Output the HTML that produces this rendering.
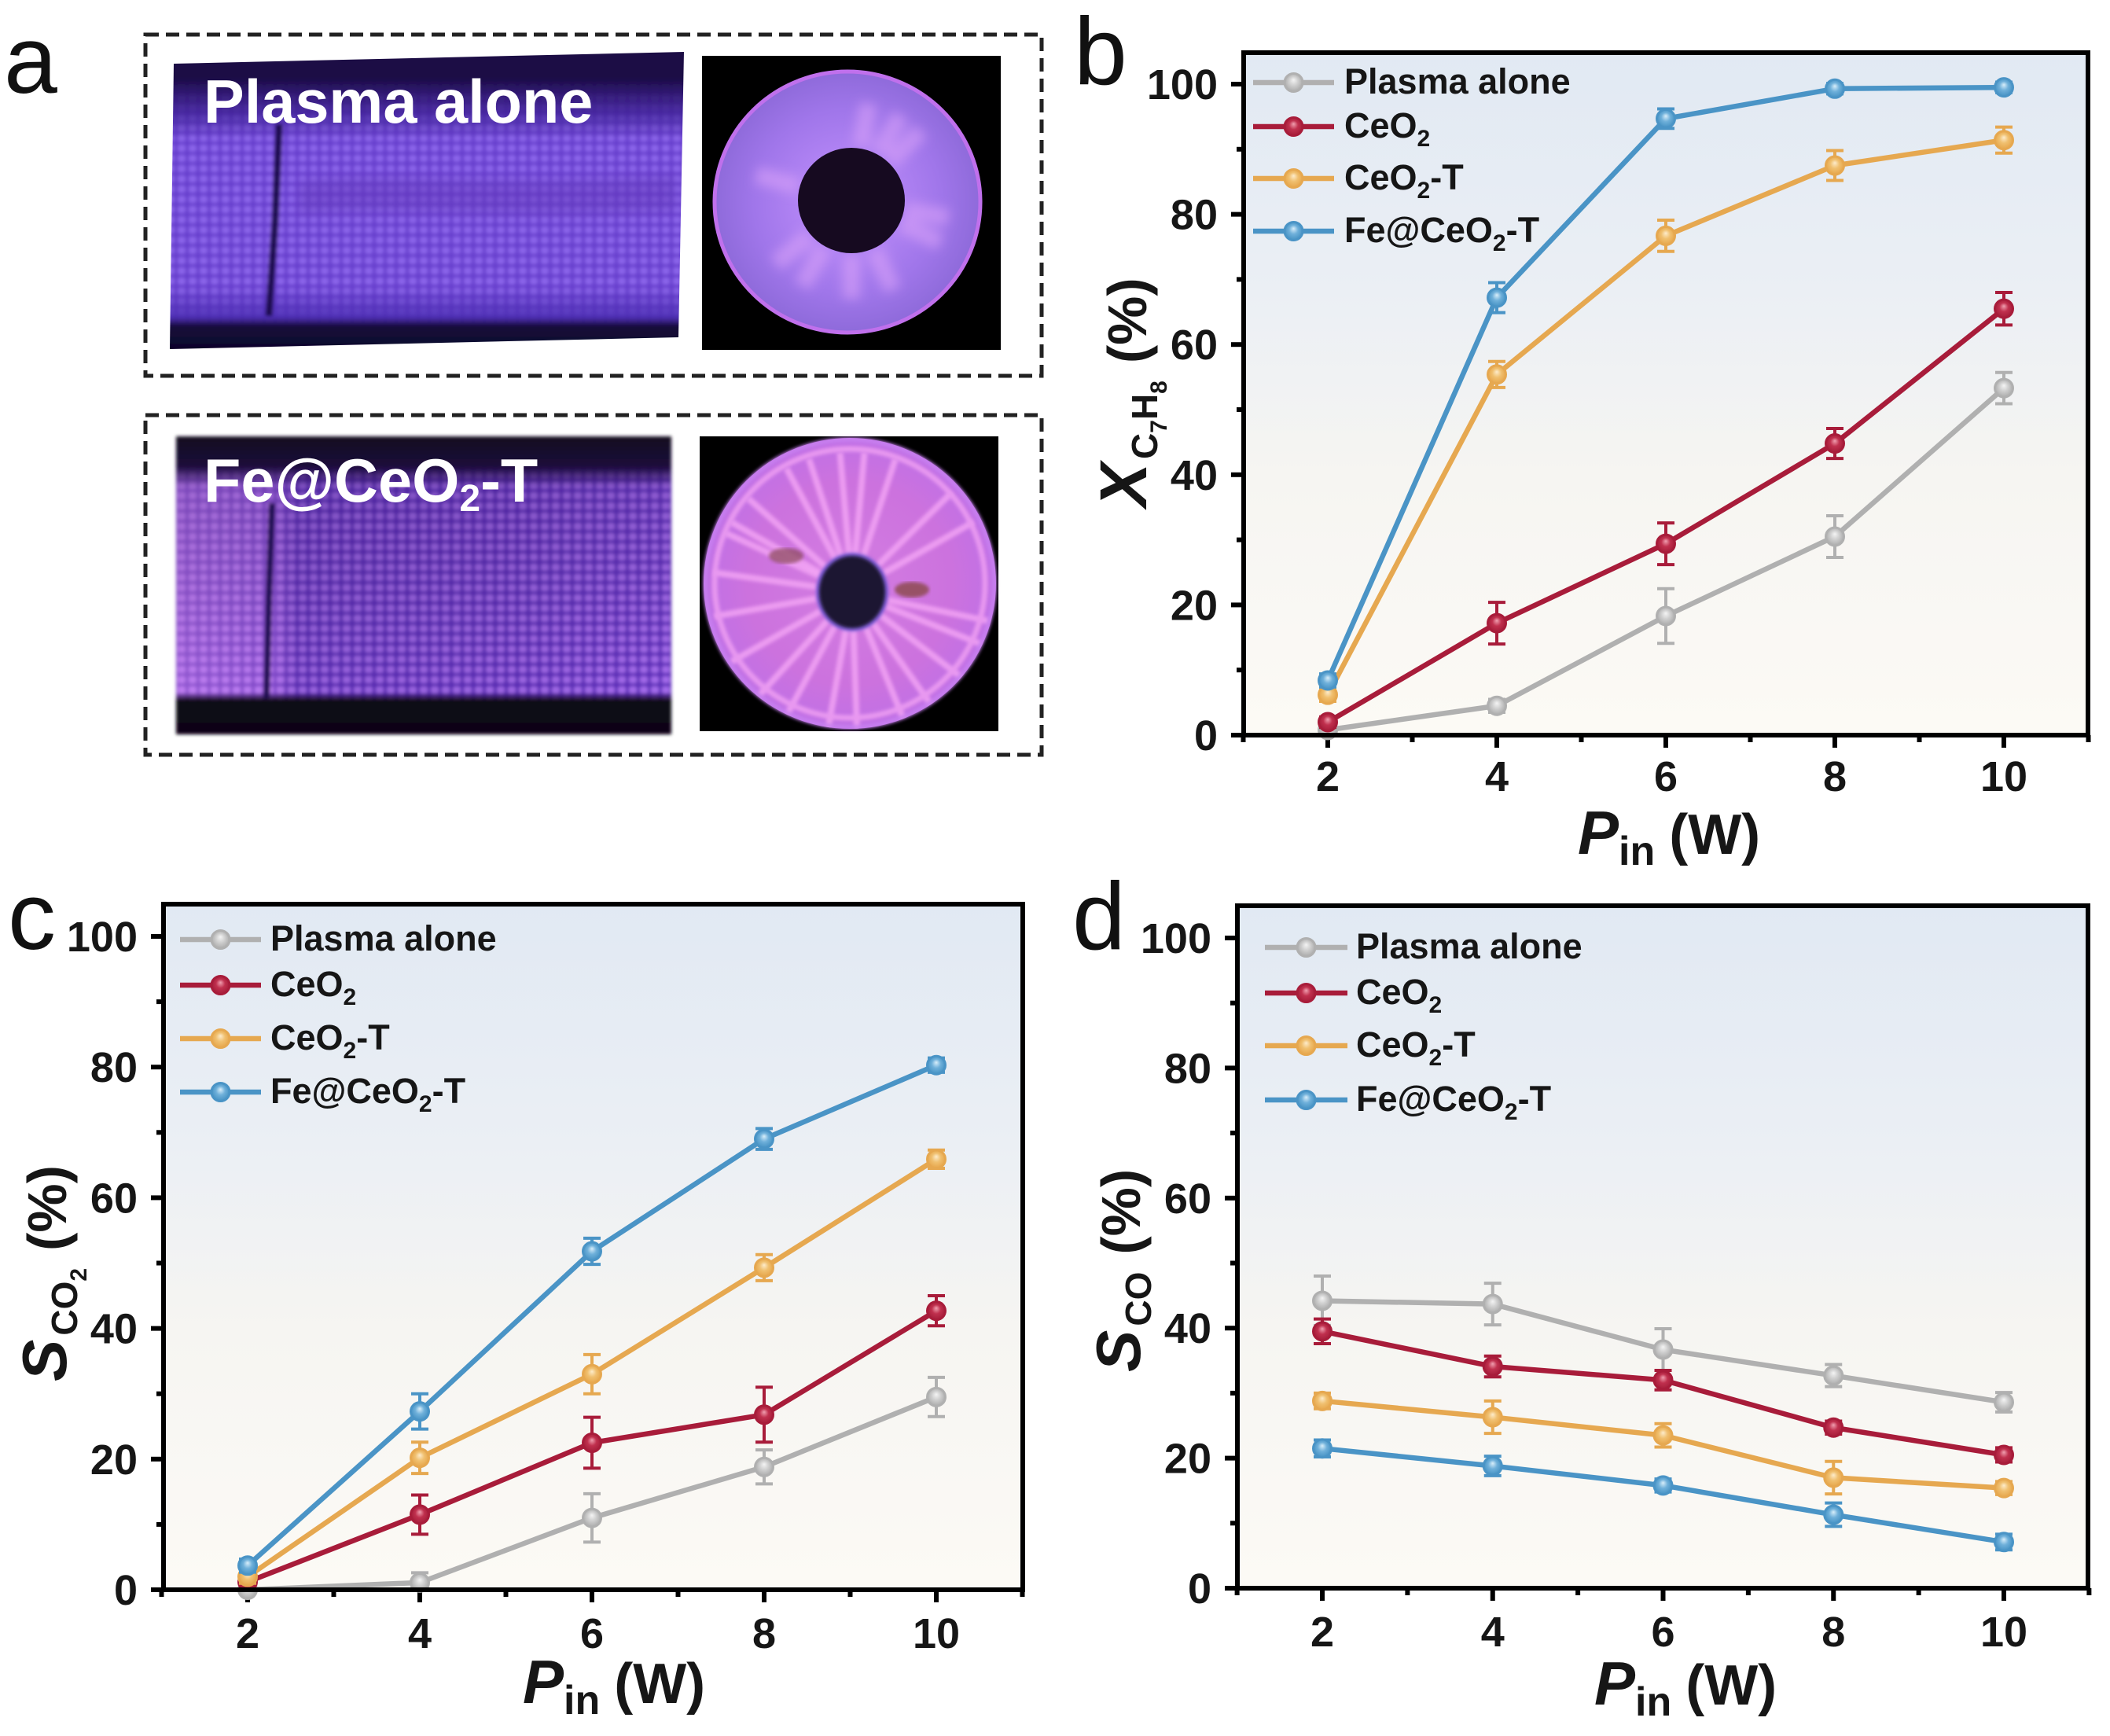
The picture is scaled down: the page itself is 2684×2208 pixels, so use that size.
<!DOCTYPE html>
<html lang="en">
<head>
<meta charset="utf-8">
<title>Plasma catalysis figure</title>
<style>
html,body{margin:0;padding:0;background:#fff;}
svg{display:block;font-family:"Liberation Sans",Arial,sans-serif;}
text{fill:#161616;font-weight:bold;}
.letter{font-weight:normal;font-size:122px;fill:#111;}
.over{fill:#fff;font-size:77.5px;font-weight:bold;}
</style>
</head>
<body>
<svg id="fig" xmlns="http://www.w3.org/2000/svg" width="2684" height="2208" viewBox="0 0 2684 2208">
<defs>
<linearGradient id="plotBg" x1="0" y1="0" x2="0" y2="1">
<stop offset="0" stop-color="#e1e9f3"/><stop offset="0.35" stop-color="#ebeff4"/><stop offset="0.62" stop-color="#f6f5f2"/><stop offset="1" stop-color="#fcfaf5"/>
</linearGradient>
<radialGradient id="mk0" cx="0.5" cy="0.5" r="0.55" fx="0.5" fy="0.35"><stop offset="0" stop-color="#f4f4f4"/><stop offset="0.45" stop-color="#cfcfcf"/><stop offset="1" stop-color="#a6a6a6"/></radialGradient>
<radialGradient id="mk1" cx="0.5" cy="0.5" r="0.55" fx="0.5" fy="0.35"><stop offset="0" stop-color="#f0a0b0"/><stop offset="0.45" stop-color="#c0304e"/><stop offset="1" stop-color="#a01a36"/></radialGradient>
<radialGradient id="mk2" cx="0.5" cy="0.5" r="0.55" fx="0.5" fy="0.35"><stop offset="0" stop-color="#fdeccb"/><stop offset="0.45" stop-color="#f0c070"/><stop offset="1" stop-color="#e5a245"/></radialGradient>
<radialGradient id="mk3" cx="0.5" cy="0.5" r="0.55" fx="0.5" fy="0.35"><stop offset="0" stop-color="#d8eefa"/><stop offset="0.45" stop-color="#6fb0da"/><stop offset="1" stop-color="#3f8dc0"/></radialGradient>
<pattern id="mesh1" width="14" height="13" patternUnits="userSpaceOnUse"><rect width="14" height="13" fill="#6238c8"/><rect x="2" y="2" width="10" height="9" rx="3" fill="#8f6aec"/></pattern>
<pattern id="mesh2" width="14" height="13" patternUnits="userSpaceOnUse"><rect width="14" height="13" fill="#5c2cb8"/><rect x="2" y="2" width="10" height="9" rx="3" fill="#a66cec"/></pattern>
<linearGradient id="fadeTop1" x1="0" y1="0" x2="0" y2="1"><stop offset="0" stop-color="#1a0a44"/><stop offset="0.1" stop-color="#1a0a44"/><stop offset="0.22" stop-color="#3a1e90" stop-opacity="0.7"/><stop offset="0.3" stop-color="#3a1e90" stop-opacity="0"/><stop offset="0.78" stop-color="#4a2cb0" stop-opacity="0"/><stop offset="0.88" stop-color="#4a2cb0" stop-opacity="0.85"/><stop offset="0.91" stop-color="#14083a"/><stop offset="1" stop-color="#0e0628"/></linearGradient>
<linearGradient id="fadeTop2" x1="0" y1="0" x2="0" y2="1"><stop offset="0" stop-color="#120820"/><stop offset="0.1" stop-color="#1c0c3a"/><stop offset="0.17" stop-color="#2c1460" stop-opacity="0.2"/><stop offset="0.86" stop-color="#1c0c3a" stop-opacity="0"/><stop offset="0.885" stop-color="#100818"/><stop offset="1" stop-color="#0c0612"/></linearGradient>
<linearGradient id="leftGlow" x1="0" y1="0" x2="1" y2="0"><stop offset="0" stop-color="#d890f4" stop-opacity="0.45"/><stop offset="0.2" stop-color="#d890f4" stop-opacity="0.3"/><stop offset="0.25" stop-color="#4a2a90" stop-opacity="0.18"/><stop offset="0.7" stop-color="#4a2a90" stop-opacity="0.12"/><stop offset="1" stop-color="#8a5ae0" stop-opacity="0.1"/></linearGradient>
<radialGradient id="disc1Fill" cx="0.5" cy="0.5" r="0.5"><stop offset="0.35" stop-color="#b284f4"/><stop offset="0.7" stop-color="#a076ea"/><stop offset="1" stop-color="#8e6ada"/></radialGradient>
<radialGradient id="disc2Fill" cx="0.5" cy="0.5" r="0.5"><stop offset="0.3" stop-color="#d078e0"/><stop offset="0.7" stop-color="#cc72de"/><stop offset="1" stop-color="#c070e6"/></radialGradient>
<filter id="soft" x="-5%" y="-5%" width="110%" height="110%"><feGaussianBlur stdDeviation="2"/></filter>
<filter id="softer" x="-20%" y="-20%" width="140%" height="140%"><feGaussianBlur stdDeviation="7"/></filter>
<clipPath id="photo1Clip"><polygon points="221,81 870,66 863,429 216,444"/></clipPath>
<clipPath id="disc1Clip"><ellipse cx="1078" cy="257" rx="170" ry="167"/></clipPath>
<clipPath id="disc2Clip"><ellipse cx="1081" cy="742" rx="186" ry="185"/></clipPath>
</defs>
<rect width="2684" height="2208" fill="#ffffff"/>

<g>
<text class="letter" x="5" y="118">a</text>
<rect x="185" y="44" width="1140" height="434" fill="none" stroke="#222" stroke-width="5" stroke-dasharray="17 9"/>
<rect x="185" y="528" width="1140" height="432" fill="none" stroke="#222" stroke-width="5" stroke-dasharray="17 9"/>

<g clip-path="url(#photo1Clip)">
<g filter="url(#soft)">
<rect x="210" y="60" width="670" height="390" fill="url(#mesh1)"/>
<rect x="210" y="60" width="670" height="390" fill="#7a52e0" opacity="0.25"/>
<path d="M380,232 C480,215 620,240 860,222 L860,268 C650,280 480,262 380,272Z" fill="#6238b8" opacity="0.45" filter="url(#softer)"/>
<rect x="210" y="60" width="670" height="390" fill="url(#fadeTop1)"/>
<path d="M355,158 L350,280 L342,402" stroke="#1a0a50" stroke-width="9" fill="none"/>
</g>
</g>
<text class="over" x="259" y="156">Plasma alone</text>

<g>
<rect x="893" y="71" width="380" height="374" fill="#000"/>
<ellipse cx="1078" cy="257" rx="170" ry="167" fill="url(#disc1Fill)"/>
<g id="disc1Rays" clip-path="url(#disc1Clip)" filter="url(#softer)"></g>
<ellipse cx="1078" cy="257" rx="169" ry="166" fill="none" stroke="#c070ec" stroke-width="5"/>
<ellipse cx="1083" cy="255" rx="68" ry="67" fill="#160a20"/>
</g>

<g>
<g filter="url(#soft)">
<rect x="224" y="555" width="630" height="379" fill="url(#mesh2)"/>
<rect x="224" y="555" width="630" height="379" fill="url(#leftGlow)"/>
<rect x="224" y="555" width="630" height="379" fill="url(#fadeTop2)"/>
<path d="M346,640 L342,760 L339,888" stroke="#1a0a50" stroke-width="8" fill="none"/>
</g>
</g>
<text class="over" x="259" y="638">Fe@CeO<tspan font-size="48" dy="12" style="fill:#fff">2</tspan><tspan dy="-12" style="fill:#fff">-T</tspan></text>

<g>
<rect x="890" y="555" width="380" height="375" fill="#000"/>
<ellipse cx="1081" cy="742" rx="186" ry="185" fill="url(#disc2Fill)"/>
<g id="disc2Rays" clip-path="url(#disc2Clip)" filter="url(#soft)"></g>
<ellipse cx="1000" cy="707" rx="22" ry="10" fill="#8a4a58" filter="url(#soft)" opacity="0.7"/>
<ellipse cx="1160" cy="750" rx="22" ry="10" fill="#8a4a48" filter="url(#soft)" opacity="0.8"/>
<ellipse cx="1081" cy="742" rx="172" ry="171" fill="none" stroke="#e898f0" stroke-width="7" filter="url(#soft)"/>
<ellipse cx="1081" cy="742" rx="184" ry="183" fill="none" stroke="#c880f0" stroke-width="5" filter="url(#soft)"/>
<ellipse cx="1084" cy="753" rx="46" ry="50" fill="#6a5ad8" opacity="0.8" filter="url(#soft)"/>
<ellipse cx="1084" cy="753" rx="42" ry="46" fill="#1c1230" filter="url(#soft)"/>
</g>
</g>

<g id="panelB">
<text class="letter" x="1366" y="107">b</text>
</g>
<g id="panelC">
<text class="letter" x="10" y="1207">c</text>
</g>
<g id="panelD">
<text class="letter" x="1364" y="1207">d</text>
</g>
</svg>

<script>
// ---- shared categories and tick labels ----
const powerCategories = [2, 4, 6, 8, 10];
const xTickValues = [1, 2, 3, 4, 5, 6, 7, 8, 9, 10, 11];
const xTickLabels = [2, 4, 6, 8, 10];
const yTickValues = [0, 10, 20, 30, 40, 50, 60, 70, 80, 90, 100];
const yTickLabels = [0, 20, 40, 60, 80, 100];
const seriesNames = ['Plasma alone', 'CeO2', 'CeO2-T', 'Fe@CeO2-T'];
const seriesColors = ['#b0b0b0', '#a81c3a', '#e6a850', '#4a94c6'];

// ---- panel b: toluene conversion ----
const bPlasma = [0.8, 4.5, 18.3, 30.5, 53.3];
const bPlasmaErr = [0.6, 1.0, 4.2, 3.2, 2.4];
const bCeO2 = [2.0, 17.2, 29.4, 44.8, 65.5];
const bCeO2Err = [0.8, 3.2, 3.2, 2.3, 2.5];
const bCeO2T = [6.2, 55.4, 76.7, 87.5, 91.4];
const bCeO2TErr = [1.0, 2.0, 2.4, 2.3, 2.0];
const bFe = [8.4, 67.2, 94.7, 99.3, 99.5];
const bFeErr = [1.0, 2.3, 1.5, 0.8, 0.8];

// ---- panel c: CO2 selectivity ----
const cPlasma = [0.0, 1.1, 11.0, 18.8, 29.5];
const cPlasmaErr = [0.3, 1.5, 3.7, 2.6, 3.0];
const cCeO2 = [1.2, 11.5, 22.5, 26.8, 42.7];
const cCeO2Err = [1.0, 3.0, 3.9, 4.2, 2.3];
const cCeO2T = [2.0, 20.2, 33.0, 49.3, 65.9];
const cCeO2TErr = [1.0, 2.4, 3.0, 2.0, 1.4];
const cFe = [3.7, 27.3, 51.8, 69.0, 80.3];
const cFeErr = [1.0, 2.7, 2.0, 1.6, 1.1];

// ---- panel d: CO selectivity ----
const dPlasma = [44.2, 43.7, 36.7, 32.7, 28.6];
const dPlasmaErr = [3.8, 3.2, 3.2, 1.7, 1.5];
const dCeO2 = [39.5, 34.1, 32.0, 24.7, 20.5];
const dCeO2Err = [1.9, 1.6, 1.5, 1.0, 1.1];
const dCeO2T = [28.8, 26.3, 23.5, 17.0, 15.4];
const dCeO2TErr = [1.2, 2.5, 1.8, 2.5, 1.0];
const dFe = [21.5, 18.8, 15.8, 11.3, 7.1];
const dFeErr = [1.3, 1.5, 1.0, 1.8, 1.2];

const NS = 'http://www.w3.org/2000/svg';
function mk(tag, attrs, parent) {
  const el = document.createElementNS(NS, tag);
  for (const k in attrs) el.setAttribute(k, attrs[k]);
  parent.appendChild(el);
  return el;
}

function drawPanel(id, frame, values, errors, legend, xLabelY, xTitle, yTitleFn) {
  const root = document.getElementById(id);
  const xScale = v => frame.x2 + (v - 2) * (frame.x10 - frame.x2) / 8;
  const yScale = v => frame.y0 + (frame.y100 - frame.y0) * v / 100;

  const bg = mk('rect', {x: frame.left, y: frame.top, width: frame.right - frame.left, height: frame.bottom - frame.top, fill: 'url(#plotBg)'}, root);
  
  

  const ticks = mk('g', {stroke: '#000'}, root);
  
  
  xTickValues.forEach(v => {
    const major = xTickLabels.indexOf(v) >= 0;
    const t = mk('line', {x1: xScale(v), x2: xScale(v), y1: frame.bottom, y2: frame.bottom + (major ? 16 : 9), 'stroke-width': 6}, ticks);
    
    
  });
  yTickValues.forEach(v => {
    const major = yTickLabels.indexOf(v) >= 0;
    const t = mk('line', {x1: frame.left, x2: frame.left - (major ? 16 : 9), y1: yScale(v), y2: yScale(v), 'stroke-width': 6}, ticks);
    
    
  });

  xTickLabels.forEach(v => {
    const t = mk('text', {x: xScale(v), y: xLabelY, 'text-anchor': 'middle', 'font-size': 54}, root);
    t.textContent = v;
    
    
  });
  yTickLabels.forEach(v => {
    const t = mk('text', {x: frame.left - 33, y: yScale(v) + 19, 'text-anchor': 'end', 'font-size': 54}, root);
    t.textContent = v;
    
    
  });

  const xt = mk('text', {x: xTitle.x, y: xTitle.y, 'font-size': 72}, root);
  
  
  const xtP = mk('tspan', {'font-style': 'italic', 'font-size': 78}, xt);
  xtP.textContent = 'P';
  const xtIn = mk('tspan', {'font-size': 52, dy: 14}, xt);
  xtIn.textContent = 'in';
  const xtU = mk('tspan', {dy: -14, dx: 18}, xt);
  xtU.textContent = '(W)';

  yTitleFn(root);

  values.forEach((series, s) => {
    const group = mk('g', {}, root);
    
    
    const pts = series.map((v, i) => xScale(powerCategories[i]) + ',' + yScale(v)).join(' ');
    const line = mk('polyline', {points: pts, fill: 'none', stroke: seriesColors[s], 'stroke-width': 6.5, 'stroke-linejoin': 'round'}, group);
    
    
    series.forEach((v, i) => {
      const x = xScale(powerCategories[i]);
      const hi = yScale(v + errors[s][i]);
      const lo = yScale(Math.max(v - errors[s][i], 0));
      const err = mk('path', {d: 'M' + (x - 11) + ',' + hi + 'H' + (x + 11) + 'M' + x + ',' + hi + 'V' + lo + 'M' + (x - 11) + ',' + lo + 'H' + (x + 11), fill: 'none', stroke: seriesColors[s], 'stroke-width': 4}, group);
      
      
      const dot = mk('circle', {cx: x, cy: yScale(v), r: 11.5, fill: 'url(#mk' + s + ')', stroke: seriesColors[s], 'stroke-width': 3}, group);
      
      
    });
  });

  const border = mk('rect', {x: frame.left, y: frame.top, width: frame.right - frame.left, height: frame.bottom - frame.top, fill: 'none', stroke: '#000', 'stroke-width': 6}, root);
  
  

  seriesNames.forEach((name, s) => {
    const row = mk('g', {}, root);
    
    
    const y = legend.rows[s];
    const l = mk('line', {x1: legend.lineStart, x2: legend.lineEnd, y1: y, y2: y, stroke: seriesColors[s], 'stroke-width': 6.5}, row);
    
    
    const c = mk('circle', {cx: (legend.lineStart + legend.lineEnd) / 2, cy: y, r: 11.5, fill: 'url(#mk' + s + ')', stroke: seriesColors[s], 'stroke-width': 3}, row);
    
    
    const t = mk('text', {x: legend.textX, y: y + 14, 'font-size': 45}, row);
    
    
    const parts = name.split('2');
    const head = mk('tspan', {}, t);
    head.textContent = parts[0];
    if (parts.length > 1) {
      const sub = mk('tspan', {'font-size': 30, dy: 11}, t);
      sub.textContent = '2';
      const tail = mk('tspan', {dy: -11}, t);
      tail.textContent = parts[1] || '\u200b';
    }
  });
}

function yTitle(root, pos, big, bigSize, subParts) {
  const t = mk('text', {transform: 'translate(' + pos.x + ',' + pos.y + ') rotate(-90)', 'font-size': 70}, root);
  
  
  const b = mk('tspan', {'font-style': 'italic', 'font-size': bigSize}, t);
  b.textContent = big;
  let shift = 0;
  subParts.forEach((p, i) => {
    const drop = p.low ? 26 : 14;
    const sp = mk('tspan', {'font-size': p.low ? 30 : 46, dy: drop - shift, dx: i === 0 ? 5 : 0}, t);
    sp.textContent = p.text;
    shift = drop;
  });
  const tail = mk('tspan', {dy: -shift, dx: 22}, t);
  tail.textContent = '(%)';
}

drawPanel('panelB',
  {left: 1582, right: 2656, top: 67, bottom: 935, x2: 1689, x10: 2549, y0: 935, y100: 107},
  [bPlasma, bCeO2, bCeO2T, bFe], [bPlasmaErr, bCeO2Err, bCeO2TErr, bFeErr],
  {rows: [105, 161, 227, 294], lineStart: 1594, lineEnd: 1697, textX: 1710},
  1006, {x: 2007, y: 1086},
  r => yTitle(r, {x: 1458, y: 645}, 'X', 84, [{text: 'C'}, {text: '7', low: true}, {text: 'H'}, {text: '8', low: true}]));

drawPanel('panelC',
  {left: 208, right: 1301, top: 1150, bottom: 2022, x2: 315, x10: 1191, y0: 2022, y100: 1191},
  [cPlasma, cCeO2, cCeO2T, cFe], [cPlasmaErr, cCeO2Err, cCeO2TErr, cFeErr],
  {rows: [1195, 1253, 1321, 1389], lineStart: 229, lineEnd: 332, textX: 344},
  2096, {x: 665, y: 2166},
  r => yTitle(r, {x: 84, y: 1757}, 'S', 80, [{text: 'CO'}, {text: '2', low: true}]));

drawPanel('panelD',
  {left: 1574, right: 2656, top: 1152, bottom: 2020, x2: 1682, x10: 2549, y0: 2020, y100: 1193},
  [dPlasma, dCeO2, dCeO2T, dFe], [dPlasmaErr, dCeO2Err, dCeO2TErr, dFeErr],
  {rows: [1205, 1263, 1330, 1399], lineStart: 1609, lineEnd: 1714, textX: 1725},
  2094, {x: 2028, y: 2168},
  r => yTitle(r, {x: 1450, y: 1745}, 'S', 80, [{text: 'CO'}]));

// ---- decorative streaks for the disc photographs ----
const disc1Streaks = [-80, -60, -45, 10, 25, 65, 90, 120, 140, 195];
const disc2Streaks = [-150, -138, -118, -108, -95, -85, -72, -45, -30, 12, 22, 38, 55, 68, 88, 100, 118, 132, 150, 170, 188, 205];
const disc1Group = document.getElementById('disc1Rays');
const disc2Group = document.getElementById('disc2Rays');
disc1Streaks.forEach(a => {
  const r = a * Math.PI / 180;
  const ray = mk('line', {x1: 1083 + 70 * Math.cos(r), y1: 255 + 70 * Math.sin(r), x2: 1083 + 125 * Math.cos(r), y2: 255 + 125 * Math.sin(r), stroke: '#d8a0f8', 'stroke-width': 22, opacity: 0.6}, disc1Group);
  
  
});
disc2Streaks.forEach(a => {
  const r = a * Math.PI / 180;
  const ray = mk('line', {x1: 1084 + 46 * Math.cos(r), y1: 753 + 48 * Math.sin(r), x2: 1084 + 178 * Math.cos(r), y2: 753 + 178 * Math.sin(r), stroke: '#f4a6f6', 'stroke-width': 8, opacity: 0.8}, disc2Group);
  
  
});
</script>
</body>
</html>
